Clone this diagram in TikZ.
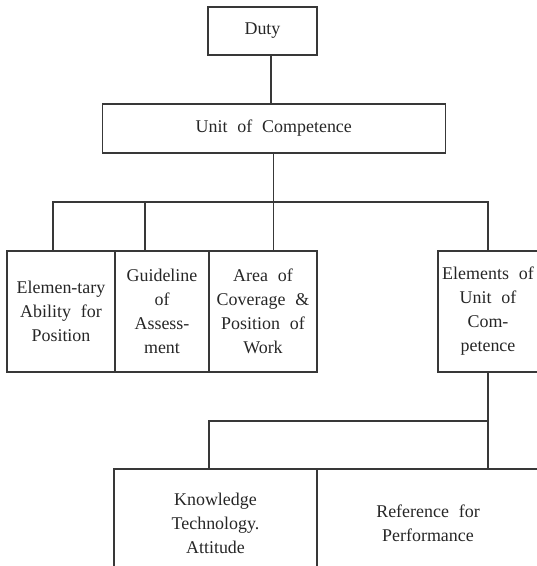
\documentclass[tikz,border=0pt]{standalone}
\usepackage{fontspec}
\setmainfont{Liberation Serif}[WordSpace=2.2]
\usepackage{tikz}
\usetikzlibrary{positioning}
\definecolor{inkgray}{HTML}{383838}
\tikzstyle{box} = [draw=inkgray, line width=1.2bp, rectangle, align=center, inner sep=0pt, outer sep=0pt, text=black!85]
\tikzstyle{link} = [draw=inkgray, line width=1.2bp]

\begin{document}
\begin{tikzpicture}[x=1bp, y=-1bp, font=\fontsize{18}{24.1}\selectfont]
\useasboundingbox (0,0) rectangle (537,566);
\clip (0,0) rectangle (537,566);
\node [box, minimum width=109bp, minimum height=48bp] (duty) at (262.5,31) {Duty};
\node [box, minimum width=343bp, minimum height=49bp] (unit) at (273.8,128.5) {Unit of Competence};

\node [box, minimum width=108bp, minimum height=121bp] (ability) at (61,311.5) {Elemen-tary\\Ability for\\Position};
\node [box, right=0pt of ability, minimum width=94bp, minimum height=121bp] (guide) {Guideline\\of\\Assess-\\ment};
\node [box, right=0pt of guide, minimum width=108bp, minimum height=121bp] (area) {Area of\\Coverage \&\\Position of\\Work};
\node [box, minimum width=100bp, minimum height=121bp] (elements) at (488,311.5) {Elements of\\Unit of\\Com-\\petence};

\node [box, minimum width=203bp, minimum height=108bp] (know) at (215.5,523) {Knowledge\\Technology.\\Attitude};
\node [box, right=0pt of know, minimum width=222bp, minimum height=108bp] (perf) {Reference for\\Performance};

\coordinate (bus) at (0,202);
\coordinate (bus2) at (0,421);
\coordinate (dutyfoot) at ([xshift=8.5bp]duty.south);
\coordinate (trunk) at ([xshift=-0.5bp]unit.south);
\coordinate (abilitytop) at ([xshift=-8bp]ability.north);
\coordinate (guidetop) at ([xshift=-17bp]guide.north);
\coordinate (knowtop) at ([xshift=-6.5bp]know.north);

\draw [link] (dutyfoot) -- (dutyfoot |- unit.north);
\draw [link] (trunk) -- (trunk |- area.north);
\draw [link] (abilitytop) |- (elements.north |- bus) -- (elements.north);
\draw [link] (guidetop) -- (guidetop |- bus);
\draw [link] (elements.south) -- (elements.south |- know.north);
\draw [link] (knowtop) |- (elements.south |- bus2);
\end{tikzpicture}
\end{document}
